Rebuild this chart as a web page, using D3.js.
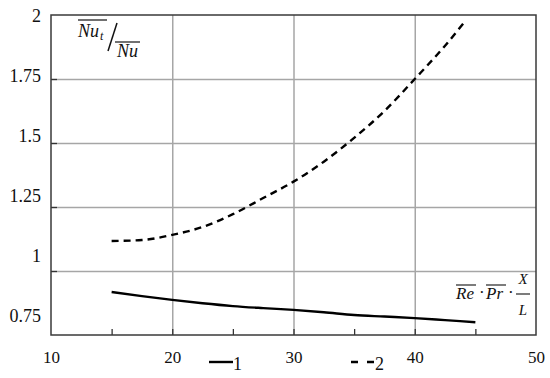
<!DOCTYPE html>
<html><head><meta charset="utf-8">
<script src="https://cdn.jsdelivr.net/npm/d3@7"></script>
<style>
html,body{margin:0;padding:0;background:#fff;}
svg{display:block;}
.serif{font-family:'Liberation Serif','Times New Roman',serif;}
</style></head>
<body>
<svg id="chart" width="550" height="378"></svg>
<script>
// ---- data ----
const xTicksLabels = [10, 20, 30, 40, 50];
const yTickLabels = [0.75, 1, 1.25, 1.5, 1.75, 2];
const xMinorTicks = [15, 20, 25, 30, 35, 40, 45];
const seriesNames = ["1", "2"];
const x1 = [15, 17.5, 20, 22.5, 25, 27.5, 30, 32.5, 35, 37.5, 40, 42.5, 45];
const y1 = [0.918, 0.902, 0.887, 0.874, 0.863, 0.855, 0.848, 0.839, 0.828, 0.822, 0.816, 0.808, 0.800];
const x2 = [15, 17.5, 20, 22.5, 25, 27.5, 30, 32.5, 35, 37.5, 40, 42.5, 44.2];
const y2 = [1.117, 1.121, 1.141, 1.172, 1.222, 1.285, 1.349, 1.427, 1.52, 1.625, 1.75, 1.88, 1.978];

const svg = d3.select("#chart");
const L = 51, R = 536, T = 15, B = 335;
const x = d3.scaleLinear().domain([10, 50]).range([L, R]);
const y = d3.scaleLinear().domain([0.75, 2]).range([B, T]);
const yLab = d3.scaleLinear().domain([0.75, 2]).range([B - 20, T]);
const SERIF = "'Liberation Serif','Times New Roman',serif";

// gridlines
const gridCol = "#a6a6a6";
svg.append("g").attr("transform", `translate(0,${B})`)
  .call(d3.axisBottom(x).tickValues([20, 30, 40]).tickSize(-(B - T)).tickFormat(""))
  .call(g => g.select(".domain").remove())
  .call(g => g.selectAll("line").attr("stroke", gridCol).attr("stroke-width", 1.5));
svg.append("g").attr("transform", `translate(${L},0)`)
  .call(d3.axisLeft(y).tickValues([1, 1.25, 1.5, 1.75]).tickSize(-(R - L)).tickFormat(""))
  .call(g => g.select(".domain").remove())
  .call(g => g.selectAll("line").attr("stroke", gridCol).attr("stroke-width", 1.5));

// inward ticks
svg.append("g").attr("transform", `translate(0,${B})`)
  .call(d3.axisBottom(x).tickValues(xMinorTicks).tickSize(-6).tickFormat(""))
  .call(g => g.select(".domain").remove())
  .call(g => g.selectAll("line").attr("stroke", "#333").attr("stroke-width", 1.3));
svg.append("g").attr("transform", `translate(${L},0)`)
  .call(d3.axisLeft(y).tickValues([1, 1.25, 1.5, 1.75]).tickSize(-6).tickFormat(""))
  .call(g => g.select(".domain").remove())
  .call(g => g.selectAll("line").attr("stroke", "#333").attr("stroke-width", 1.3));

// frame
svg.append("rect").attr("x", L).attr("y", T).attr("width", R - L).attr("height", B - T)
  .attr("fill", "none").attr("stroke", "#3a3a3a").attr("stroke-width", 1.5);

// x labels
svg.append("g").attr("transform", `translate(0,${B})`)
  .call(d3.axisBottom(x).tickValues(xTicksLabels).tickSize(0).tickPadding(0).tickFormat(d3.format("d")))
  .call(g => g.select(".domain").remove())
  .call(g => g.selectAll("text").attr("dy", 0).attr("y", 28)
    .style("font-family", SERIF).style("font-size", "17px").attr("fill", "#111"));

// y labels
svg.append("g").attr("transform", `translate(41,0)`)
  .call(d3.axisLeft(yLab).tickValues(yTickLabels).tickSize(0).tickPadding(0).tickFormat(d => String(d)))
  .call(g => g.select(".domain").remove())
  .call(g => g.selectAll("text").attr("dy", "0.35em")
    .style("font-family", SERIF).style("font-size", "18px").attr("fill", "#111"));

// lines
const line = d3.line().x(d => x(d[0])).y(d => y(d[1])).curve(d3.curveMonotoneX);
svg.append("path").datum(x1.map((v, i) => [v, y1[i]]))
  .attr("d", line).attr("fill", "none").attr("stroke", "#000").attr("stroke-width", 2.4);
svg.append("path").datum(x2.map((v, i) => [v, y2[i]]))
  .attr("d", line).attr("fill", "none").attr("stroke", "#000").attr("stroke-width", 2.4)
  .attr("stroke-dasharray", "7,5");

// axis titles
const yt = svg.append("g").style("font-family", SERIF).style("font-style", "italic").attr("fill", "#111");
yt.append("text").attr("x", 78).attr("y", 37).style("font-size", "18px").text("Nu");
yt.append("text").attr("x", 100).attr("y", 40).style("font-size", "12px").text("t");
yt.append("line").attr("x1", 78).attr("x2", 107).attr("y1", 20).attr("y2", 20).attr("stroke", "#111").attr("stroke-width", 1.2);
yt.append("line").attr("x1", 108).attr("x2", 117).attr("y1", 51).attr("y2", 23).attr("stroke", "#111").attr("stroke-width", 1.5);
yt.append("text").attr("x", 117).attr("y", 57).style("font-size", "18px").text("Nu");
yt.append("line").attr("x1", 115).attr("x2", 140).attr("y1", 42).attr("y2", 42).attr("stroke", "#111").attr("stroke-width", 1.2);

const xt = svg.append("g").style("font-family", SERIF).attr("fill", "#111");
xt.append("text").attr("x", 456).attr("y", 299).style("font-size", "17px").style("font-style", "italic").text("Re");
xt.append("line").attr("x1", 456).attr("x2", 476).attr("y1", 285).attr("y2", 285).attr("stroke", "#111").attr("stroke-width", 1.1);
xt.append("text").attr("x", 479).attr("y", 298).style("font-size", "17px").text("·");
xt.append("text").attr("x", 486).attr("y", 299).style("font-size", "17px").style("font-style", "italic").text("Pr");
xt.append("line").attr("x1", 486).attr("x2", 506).attr("y1", 285).attr("y2", 285).attr("stroke", "#111").attr("stroke-width", 1.1);
xt.append("text").attr("x", 508).attr("y", 298).style("font-size", "17px").text("·");
xt.append("text").attr("x", 523).attr("y", 284).style("font-size", "15px").style("font-style", "italic").attr("text-anchor", "middle").text("X");
xt.append("line").attr("x1", 516).attr("x2", 530).attr("y1", 294).attr("y2", 294).attr("stroke", "#111").attr("stroke-width", 1.1);
xt.append("text").attr("x", 523).attr("y", 315).style("font-size", "15px").style("font-style", "italic").attr("text-anchor", "middle").text("L");

// legend
const leg = svg.append("g");
const legX = [209, 351];
seriesNames.forEach((n, i) => {
  leg.append("line").attr("x1", legX[i]).attr("x2", legX[i] + 24).attr("y1", 362).attr("y2", 362)
    .attr("stroke", "#000").attr("stroke-width", 2.4)
    .attr("stroke-dasharray", i === 1 ? "7,9" : null);
  leg.append("text").attr("x", legX[i] + 24).attr("y", 370).style("font-family", SERIF)
    .style("font-size", "18px").attr("fill", "#111").text(n);
});
</script>
</body></html>
